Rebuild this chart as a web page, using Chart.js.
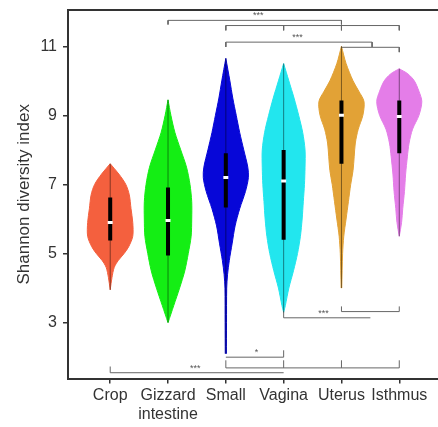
<!DOCTYPE html>
<html lang="en">
<head>
<meta charset="UTF-8">
<title>Shannon diversity index</title>
<style>
  body { margin: 0; background: #fff; }
  .chart-box { width: 438px; height: 427px; position: relative; }
</style>
</head>
<body>
<div class="chart-box"><canvas id="chart"></canvas></div>
<script src="https://cdn.jsdelivr.net/npm/chart.js"></script>
<script>
const categories = ['Crop', 'Gizzard', 'Small', 'Vagina', 'Uterus', 'Isthmus'];
const tickLabels = ['Crop', ['Gizzard', 'intestine'], 'Small', 'Vagina', 'Uterus', 'Isthmus'];
const colors = ['#f4603e', '#14ee14', '#0707d8', '#22e6ee', '#e2a236', '#e47de8'];
const yTicks = [3, 5, 7, 9, 11];

// violin outlines: levels (index value) and half widths (in category units)
const cropLevels = [3.95, 4.3, 4.6, 4.8, 5.0, 5.2, 5.5, 5.9, 6.3, 6.7, 7.0, 7.3, 7.6];
const cropWidths = [0, 0.03, 0.07, 0.14, 0.24, 0.32, 0.39, 0.39, 0.36, 0.33, 0.27, 0.15, 0];
const gizzardLevels = [3.0, 3.5, 4.0, 4.5, 5.0, 5.5, 6.0, 6.5, 7.0, 7.5, 8.0, 8.5, 9.0, 9.45];
const gizzardWidths = [0, 0.1, 0.2, 0.29, 0.35, 0.4, 0.41, 0.41, 0.38, 0.32, 0.22, 0.12, 0.05, 0];
const smallLevels = [2.1, 3.0, 4.0, 4.4, 4.8, 5.3, 5.8, 6.3, 6.8, 7.2, 7.5, 8.0, 8.5, 9.0, 9.5, 10.0, 10.65];
const smallWidths = [0.01, 0.012, 0.015, 0.03, 0.06, 0.11, 0.16, 0.24, 0.34, 0.39, 0.38, 0.31, 0.24, 0.18, 0.12, 0.07, 0];
const vaginaLevels = [3.3, 3.5, 4.0, 4.5, 5.0, 5.5, 6.0, 6.5, 7.0, 7.5, 8.0, 8.5, 9.0, 9.5, 10.0, 10.5];
const vaginaWidths = [0, 0.03, 0.09, 0.17, 0.24, 0.29, 0.32, 0.34, 0.36, 0.37, 0.37, 0.33, 0.26, 0.18, 0.09, 0];
const uterusLevels = [4.0, 5.0, 5.5, 6.0, 6.5, 7.0, 7.4, 7.8, 8.2, 8.6, 9.0, 9.4, 9.7, 10.0, 10.5, 11.0];
const uterusWidths = [0.005, 0.02, 0.04, 0.08, 0.12, 0.16, 0.2, 0.22, 0.24, 0.29, 0.37, 0.39, 0.3, 0.2, 0.08, 0];
const isthmusLevels = [5.5, 5.9, 6.3, 6.8, 7.3, 7.8, 8.2, 8.6, 9.0, 9.4, 9.7, 10.0, 10.2, 10.35];
const isthmusWidths = [0, 0.04, 0.06, 0.09, 0.11, 0.14, 0.17, 0.23, 0.34, 0.39, 0.34, 0.26, 0.15, 0];

const q1 = [5.38, 4.94, 6.33, 5.4, 7.6, 7.9];
const q3 = [6.62, 6.91, 7.9, 8.0, 9.43, 9.43];
const medians = [5.9, 5.96, 7.2, 7.1, 9.0, 8.97];

// significance brackets (dir -1: ticks point down, +1: ticks point up)
const brackets = [
  {from: 2, to: 5, y: 11.75, ticks: [2, 5], dir: -1, len: 0.12},
  {from: 3, to: 6, y: 11.6, ticks: [3, 4, 5, 6], dir: -1, len: 0.14},
  {from: 3, to: 5.53, y: 11.12, ticks: [3, 5.53], dir: -1, len: 0.14},
  {from: 5, to: 6, y: 10.97, ticks: [6], dir: -1, len: 0.14},
  {from: 4, to: 5.5, y: 3.14, ticks: [4], dir: 1, len: 0.18},
  {from: 5, to: 6, y: 3.32, ticks: [5, 6], dir: 1, len: 0.15},
  {from: 3, to: 4, y: 2.0, ticks: [4], dir: 1, len: 0.2},
  {from: 3, to: 6, y: 1.69, ticks: [3, 4, 5, 6], dir: 1, len: 0.22},
  {from: 1, to: 4, y: 1.55, ticks: [1], dir: 1, len: 0.18}
];
const starLabels = [
  {x: 3.56, y: 11.88, text: '***'},
  {x: 4.24, y: 11.25, text: '***'},
  {x: 4.69, y: 3.26, text: '***'},
  {x: 3.53, y: 2.13, text: '*'},
  {x: 2.47, y: 1.66, text: '***'}
];

const levels = [cropLevels, gizzardLevels, smallLevels, vaginaLevels, uterusLevels, isthmusLevels];
const widths = [cropWidths, gizzardWidths, smallWidths, vaginaWidths, uterusWidths, isthmusWidths];

const datasets = [];
categories.forEach((name, i) => {
  const pos = i + 1;
  const base = {borderColor: colors[i], backgroundColor: colors[i], borderWidth: 1, pointRadius: 0, tension: 0.3, order: 10};
  datasets.push(Object.assign({label: name, fill: '+1', data: levels[i].map((v, k) => ({x: pos + widths[i][k], y: v}))}, base));
  datasets.push(Object.assign({label: name + ' left', fill: false, data: levels[i].map((v, k) => ({x: pos - widths[i][k], y: v}))}, base));
});
categories.forEach((name, i) => {
  const pos = i + 1;
  const lv = levels[i];
  datasets.push({label: name + ' range', data: [{x: pos, y: lv[0]}, {x: pos, y: lv[lv.length - 1]}],
    borderColor: 'rgba(0,0,0,0.45)', borderWidth: 1, pointRadius: 0, fill: false, order: 3});
  datasets.push({label: name + ' box', data: [{x: pos, y: q1[i]}, {x: pos, y: q3[i]}],
    borderColor: '#000', borderWidth: 4, pointRadius: 0, fill: false, order: 2});
  datasets.push({label: name + ' median', data: [{x: pos, y: medians[i]}], showLine: false,
    pointStyle: 'line', pointRadius: 2.5, pointBorderWidth: 3, pointBorderColor: '#fff', order: 1});
});
brackets.forEach(b => {
  const style = {borderColor: '#666', borderWidth: 1, pointRadius: 0, fill: false, order: 5};
  datasets.push(Object.assign({label: 'bracket', data: [{x: b.from, y: b.y}, {x: b.to, y: b.y}]}, style));
  b.ticks.forEach(t => {
    datasets.push(Object.assign({label: 'bracket tick', data: [{x: t, y: b.y}, {x: t, y: b.y + b.dir * b.len}]}, style));
  });
});

const starPlugin = {
  id: 'stars',
  afterDatasetsDraw(chart) {
    const {ctx} = chart;
    const x = chart.scales.x, y = chart.scales.y;
    ctx.save();
    ctx.font = '9px "Liberation Sans", Arial, sans-serif';
    ctx.fillStyle = '#555';
    ctx.textAlign = 'center';
    ctx.textBaseline = 'middle';
    starLabels.forEach(s => ctx.fillText(s.text, x.getPixelForValue(s.x), y.getPixelForValue(s.y)));
    ctx.restore();
  }
};

const font = {family: '"Liberation Sans", Arial, sans-serif', size: 16};

new Chart(document.getElementById('chart'), {
  type: 'line',
  data: {datasets: datasets},
  options: {
    indexAxis: 'y',
    responsive: true,
    maintainAspectRatio: false,
    animation: false,
    layout: {autoPadding: false, padding: {top: 10, right: 0, bottom: 1, left: 0}},
    plugins: {legend: {display: false}, tooltip: {enabled: false}},
    scales: {
      x: {
        type: 'linear', position: 'bottom', min: 0.27, max: 6.67,
        afterBuildTicks: s => { s.ticks = categories.map((c, i) => ({value: i + 1})); },
        ticks: {autoSkip: false, maxRotation: 0, padding: 2, color: '#333', font: font,
          callback: v => tickLabels[v - 1]},
        grid: {display: true, drawOnChartArea: false, tickLength: 5, color: '#333', lineWidth: 1.5},
        border: {display: true, color: '#333', width: 2}
      },
      xTop: {
        type: 'linear', position: 'top', min: 0.27, max: 6.67,
        afterFit: s => { s.height = 0; },
        ticks: {display: false}, grid: {display: false},
        border: {display: true, color: '#333', width: 2}
      },
      y: {
        type: 'linear', min: 1.38, max: 12.05,
        afterBuildTicks: s => { s.ticks = yTicks.map(v => ({value: v})); },
        afterFit: s => { s.width = 68; s.paddingTop = 0; s.paddingBottom = 0; },
        ticks: {padding: 6, color: '#333', font: font},
        grid: {display: true, drawOnChartArea: false, tickLength: 5, color: '#333', lineWidth: 1.5},
        border: {display: true, color: '#333', width: 2},
        title: {display: true, text: 'Shannon diversity index', color: '#333',
          font: {family: '"Liberation Sans", Arial, sans-serif', size: 17}, padding: {top: 14, bottom: 0}}
      }
    }
  },
  plugins: [starPlugin]
});
</script>
</body>
</html>
